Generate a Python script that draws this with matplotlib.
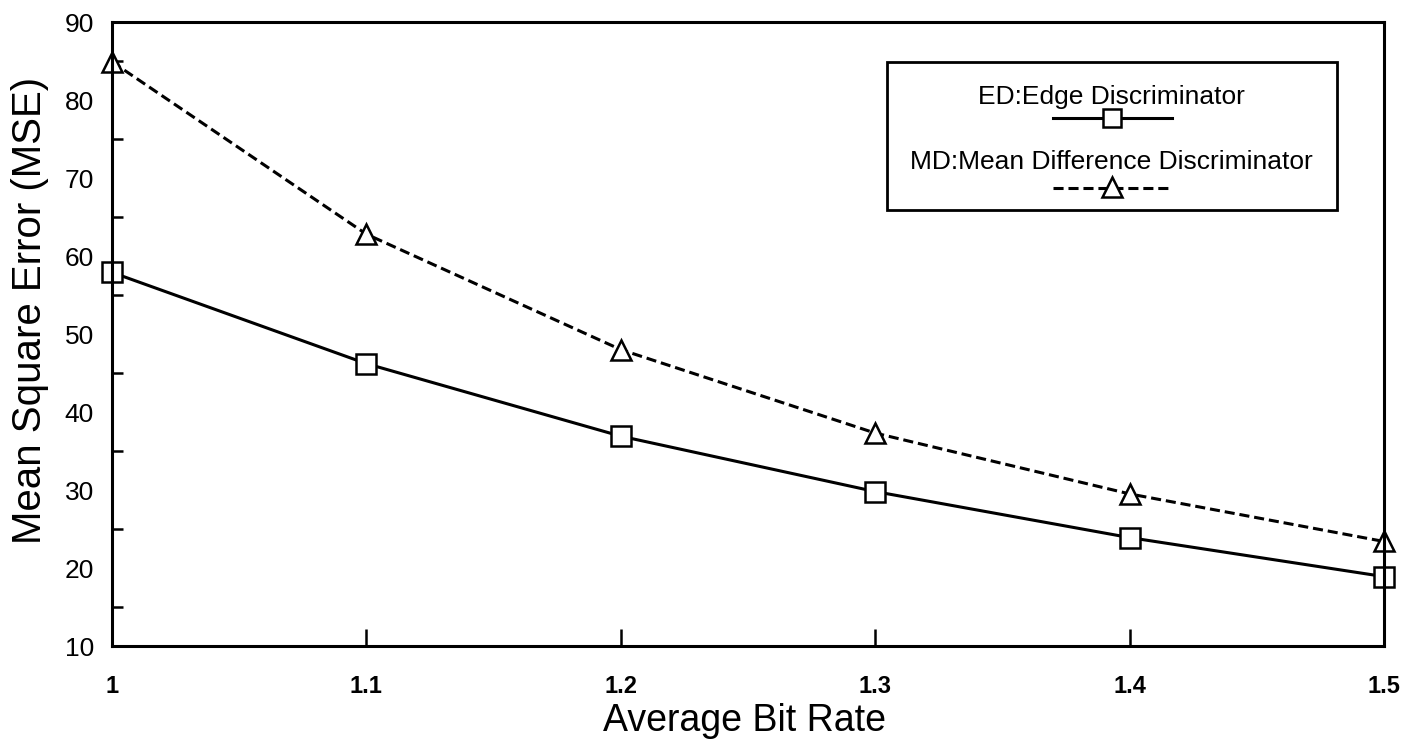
import matplotlib
matplotlib.use("Agg")
import matplotlib.pyplot as plt
from matplotlib.lines import Line2D
from matplotlib.patches import Rectangle

bit_rate = [1.0, 1.1, 1.2, 1.3, 1.4, 1.5]
mse_ed = [57.9, 46.2, 36.9, 29.8, 23.9, 18.9]
mse_md = [84.9, 62.8, 48.0, 37.3, 29.5, 23.4]
x_ticks = [1.0, 1.1, 1.2, 1.3, 1.4, 1.5]
x_labels = ["1", "1.1", "1.2", "1.3", "1.4", "1.5"]
y_ticks = [10, 20, 30, 40, 50, 60, 70, 80, 90]
y_minor = [15, 25, 35, 45, 55, 65, 75, 85]
label_ed = "ED:Edge Discriminator"
label_md = "MD:Mean Difference Discriminator"

plt.rcParams['font.family'] = ['Liberation Sans', 'DejaVu Sans']

fig = plt.figure(figsize=(14.21, 7.49), dpi=100)
ax = fig.add_axes([0.0788, 0.1375, 0.8952, 0.8331])

lw = 2.2
dash = (0, (3.3, 1.6))
ax.plot(bit_rate, mse_ed, color='black', lw=lw, marker='s', ms=14,
        mfc='white', mec='black', mew=1.8, clip_on=False)
ax.plot(bit_rate, mse_md, color='black', lw=lw, linestyle=dash,
        marker='^', ms=15, mfc='white', mec='black', mew=1.8, clip_on=False)

ax.set_xlim(1.0, 1.5)
ax.set_ylim(10, 90)
ax.set_xticks(x_ticks)
ax.set_xticklabels(x_labels, fontsize=17, fontweight='bold')
ax.set_yticks(y_ticks)
ax.set_yticklabels([str(v) for v in y_ticks], fontsize=19)
ax.set_yticks(y_minor, minor=True)
ax.tick_params(axis='y', which='major', length=0, pad=13)
ax.tick_params(axis='y', which='minor', direction='in', length=8, width=1.8)
ax.tick_params(axis='x', which='major', direction='in', length=12, width=1.8, pad=21)
for s in ax.spines.values():
    s.set_linewidth(2.2)

ax.set_xlabel("Average Bit Rate", fontsize=27)
ax.set_ylabel("Mean Square Error (MSE)", fontsize=29)
ax.xaxis.set_label_coords(0.497, -0.091)
ax.yaxis.set_label_coords(-0.0495, 0.538)

# legend box (custom layout: label above its sample line)
ax.add_patch(Rectangle((0.609, 0.699), 0.354, 0.237, transform=ax.transAxes,
                       fill=False, lw=2.0, ec='black', zorder=5))
cx = 0.786
ax.text(cx, 0.880, label_ed, transform=ax.transAxes, ha='center', va='center',
        fontsize=19, zorder=6)
ax.text(cx, 0.776, label_md, transform=ax.transAxes, ha='center', va='center',
        fontsize=19, zorder=6)
ax.add_line(Line2D([0.740, 0.833], [0.846, 0.846], transform=ax.transAxes,
                   color='black', lw=lw, zorder=6))
ax.add_line(Line2D([cx], [0.846], transform=ax.transAxes, marker='s', ms=13,
                   mfc='white', mec='black', mew=1.8, ls='none', zorder=7))
ax.add_line(Line2D([0.740, 0.833], [0.734, 0.734], transform=ax.transAxes,
                   color='black', lw=lw, linestyle=dash, zorder=6))
ax.add_line(Line2D([cx], [0.736], transform=ax.transAxes, marker='^', ms=14,
                   mfc='white', mec='black', mew=1.8, ls='none', zorder=7))

fig.savefig("out.png", dpi=100)
